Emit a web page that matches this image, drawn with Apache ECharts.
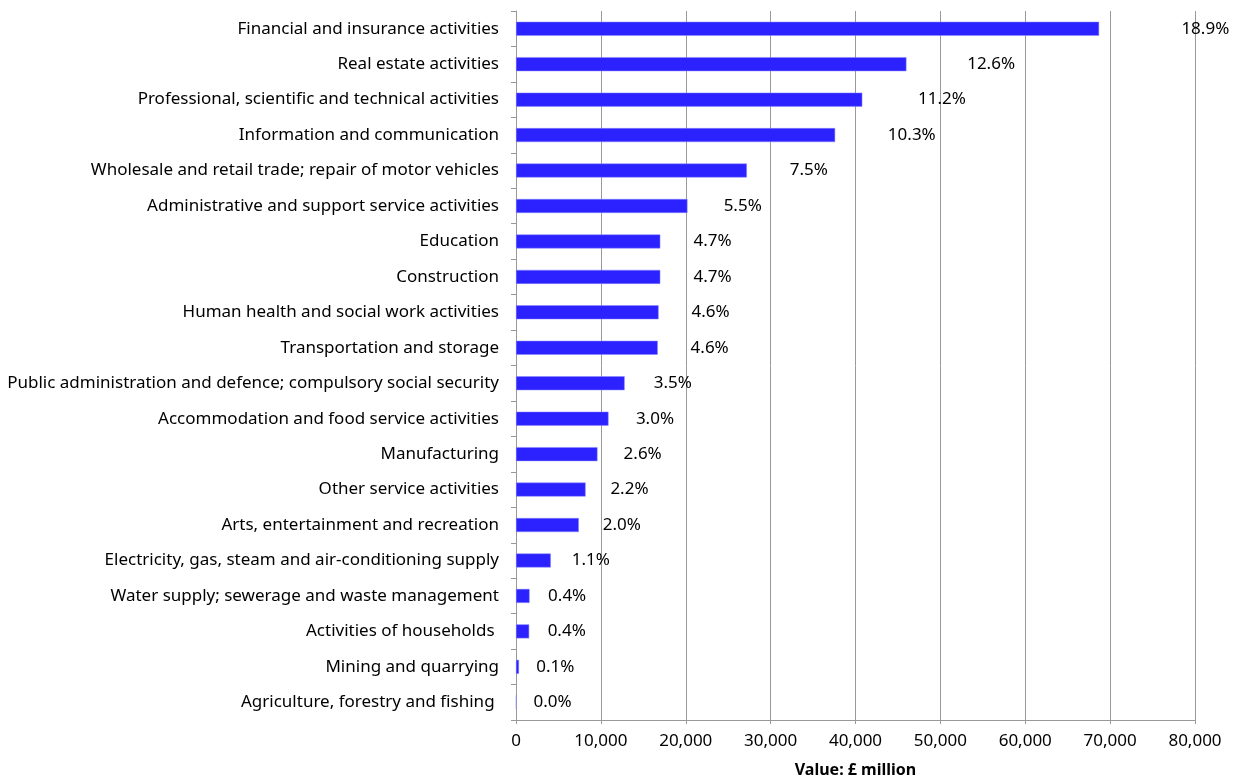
<!DOCTYPE html>
<html>
<head>
<meta charset="utf-8">
<title>Gross value added by industry</title>
<script src="https://cdn.jsdelivr.net/npm/echarts@6/dist/echarts.min.js"></script>
<style>
  html, body { margin: 0; padding: 0; background: #fff; }
  #chart { width: 1239px; height: 778px; }
</style>
</head>
<body>
<div id="chart"></div>
<script>
// Industries, listed top to bottom
const industries = [
  'Financial and insurance activities',
  'Real estate activities',
  'Professional, scientific and technical activities',
  'Information and communication',
  'Wholesale and retail trade; repair of motor vehicles',
  'Administrative and support service activities',
  'Education',
  'Construction',
  'Human health and social work activities',
  'Transportation and storage',
  'Public administration and defence; compulsory social security',
  'Accommodation and food service activities',
  'Manufacturing',
  'Other service activities',
  'Arts, entertainment and recreation',
  'Electricity, gas, steam and air-conditioning supply',
  'Water supply; sewerage and waste management',
  'Activities of households ',
  'Mining and quarrying',
  'Agriculture, forestry and fishing '
];

// Value, £ million
const values = [
  68700, 46000, 40800, 37600, 27200, 20200, 17000, 17000, 16800, 16700,
  12800, 10900, 9600, 8200, 7400, 4100, 1600, 1550, 350, 50
];

// Share of total
const shares = [
  '18.9%', '12.6%', '11.2%', '10.3%', '7.5%', '5.5%', '4.7%', '4.7%', '4.6%', '4.6%',
  '3.5%', '3.0%', '2.6%', '2.2%', '2.0%', '1.1%', '0.4%', '0.4%', '0.1%', '0.0%'
];

const xTicks = [0, 10000, 20000, 30000, 40000, 50000, 60000, 70000, 80000];

const W = 1239;
const gridLeft = 516, gridRight = 44;
const plotWidth = W - gridLeft - gridRight;
const xMax = xTicks[xTicks.length - 1];
const pxPerUnit = plotWidth / xMax;

const chart = echarts.init(document.getElementById('chart'));
const font = '"Noto Sans", "Open Sans", sans-serif';
const grey = '#999999';

chart.setOption({
  animation: false,
  grid: {
    left: gridLeft, right: gridRight, top: 11, bottom: 58,
    containLabel: false, outerBoundsMode: 'none'
  },
  xAxis: {
    type: 'value',
    min: xTicks[0],
    max: xMax,
    interval: xTicks[1] - xTicks[0],
    name: 'Value: £ million',
    nameLocation: 'middle',
    nameGap: 42,
    nameTextStyle: { fontFamily: font, fontSize: 16, fontWeight: 'bold', color: '#000' },
    axisLine: { show: true, lineStyle: { color: grey, width: 1 } },
    axisTick: { show: true, length: 4, lineStyle: { color: grey } },
    splitLine: { show: true, lineStyle: { color: grey, width: 1 } },
    axisLabel: {
      fontFamily: font, fontSize: 17, color: '#000', margin: 13,
      formatter: v => v.toLocaleString('en-GB')
    }
  },
  yAxis: {
    type: 'category',
    data: industries,
    inverse: true,
    axisLine: { show: true, lineStyle: { color: grey, width: 1 } },
    axisTick: { show: true, length: 5, lineStyle: { color: grey } },
    axisLabel: { fontFamily: font, fontSize: 17, color: '#000', margin: 17 }
  },
  series: [{
    type: 'bar',
    barWidth: 14,
    itemStyle: { color: '#2b22ff', borderColor: '#8c88ff', borderWidth: 0.5 },
    data: values.map((v, i) => ({
      value: v,
      label: {
        show: true,
        position: 'right',
        distance: 17 + 0.112 * v * pxPerUnit,
        formatter: shares[i],
        fontFamily: font,
        fontSize: 17,
        color: '#000'
      }
    }))
  }]
});
</script>
</body>
</html>
